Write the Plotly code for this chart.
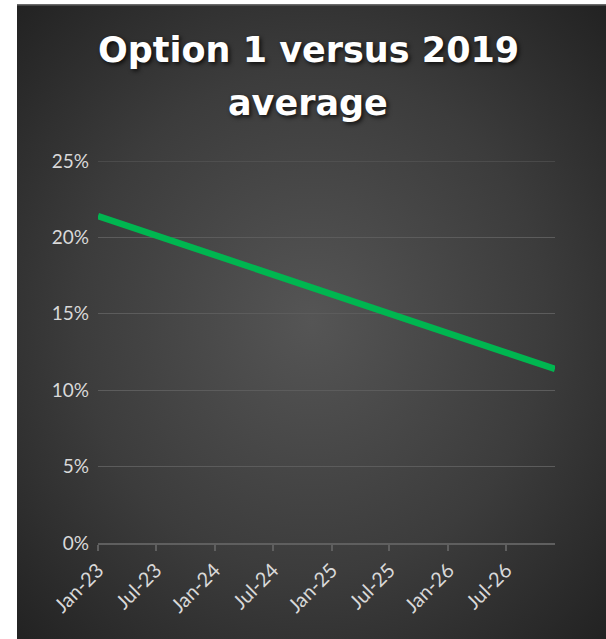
import base64
import plotly.graph_objects as go

# Data (share vs 2019 average)
dates = ["2023-01-01", "2023-07-01", "2024-01-01", "2024-07-01", "2025-01-01",
         "2025-07-01", "2026-01-01", "2026-07-01", "2026-12-01"]
values = [0.2140, 0.2012, 0.1885, 0.1757, 0.1629, 0.1502, 0.1374, 0.1246, 0.1140]
y_ticks = [0, 0.05, 0.10, 0.15, 0.20, 0.25]
y_tick_labels = ["0%", "5%", "10%", "15%", "20%", "25%"]
title_line1 = "Option 1 versus 2019"
title_line2 = "average"

W, H = 606, 639
L, R, T, B = 98, 51, 161, 96
pw, ph = W - L - R, H - T - B
GRID = "#5c5c5c"

svg = (
    '<svg xmlns="http://www.w3.org/2000/svg" width="589" height="635" '
    'preserveAspectRatio="none" viewBox="0 0 589 635">'
    '<defs><radialGradient id="g" cx="50%" cy="50%" r="72%">'
    '<stop offset="0" stop-color="#555555"/>'
    '<stop offset="0.55" stop-color="#3c3c3c"/>'
    '<stop offset="1" stop-color="#212121"/>'
    '</radialGradient></defs>'
    '<rect width="589" height="635" fill="url(#g)"/>'
    '<rect x="0" y="0" width="589" height="1.5" fill="#6a6a6a"/>'
    '</svg>'
)
src = "data:image/svg+xml;base64," + base64.b64encode(svg.encode()).decode()

fig = go.Figure()
fig.add_trace(go.Scatter(
    x=dates, y=values, mode="lines",
    line=dict(color="#00b650", width=6.5),
    hoverinfo="skip", showlegend=False,
))

x0 = (17 - L) / pw
x1 = (W - L) / pw
y1 = (H - B - 4) / ph
y0 = (H - B - H) / ph

title_font = dict(family="DejaVu Sans", size=35, color="white",
                  weight="bold", shadow="2px 2px 4px rgba(0,0,0,0.75)")

fig.update_layout(
    width=W, height=H,
    margin=dict(l=L, r=R, t=T, b=B, pad=0),
    paper_bgcolor="white",
    plot_bgcolor="rgba(0,0,0,0)",
    images=[dict(source=src, xref="paper", yref="paper",
                 x=x0, y=y1, sizex=x1 - x0, sizey=y1 - y0,
                 xanchor="left", yanchor="top", sizing="stretch",
                 layer="below")],
    shapes=[dict(type="line", xref="paper", yref="y", x0=0, x1=1,
                 y0=y_ticks[-1], y1=y_ticks[-1], layer="below",
                 line=dict(color=GRID, width=1))],
    font=dict(family="Lato, 'Open Sans', sans-serif", color="#d9d9d9"),
    annotations=[
        dict(text=title_line1, xref="paper", yref="paper",
             x=(308 - L) / pw, y=(H - B - 50) / ph,
             xanchor="center", yanchor="middle", showarrow=False,
             font=title_font),
        dict(text=title_line2, xref="paper", yref="paper",
             x=(308 - L) / pw, y=(H - B - 103) / ph,
             xanchor="center", yanchor="middle", showarrow=False,
             font=title_font),
    ],
)

fig.update_xaxes(
    type="date",
    range=["2023-01-01", "2026-12-01"],
    tick0="2023-01-01", dtick="M6",
    tickformat="%b-%y",
    tickangle=-45,
    ticks="outside", ticklen=6, tickcolor="#5f5f5f", tickwidth=1.5,
    showline=True, linecolor="#5f5f5f", linewidth=1.5,
    showgrid=False, zeroline=False,
    tickfont=dict(size=20, color="#d9d9d9"),
    fixedrange=True,
)
fig.update_yaxes(
    range=[0, 0.25],
    tickvals=y_ticks, ticktext=y_tick_labels,
    showgrid=True, gridcolor=GRID, gridwidth=1,
    zeroline=False, showline=False, ticks="",
    ticklabelstandoff=8,
    tickfont=dict(size=19, color="#d9d9d9"),
    fixedrange=True,
)

fig.write_html("out.html")
